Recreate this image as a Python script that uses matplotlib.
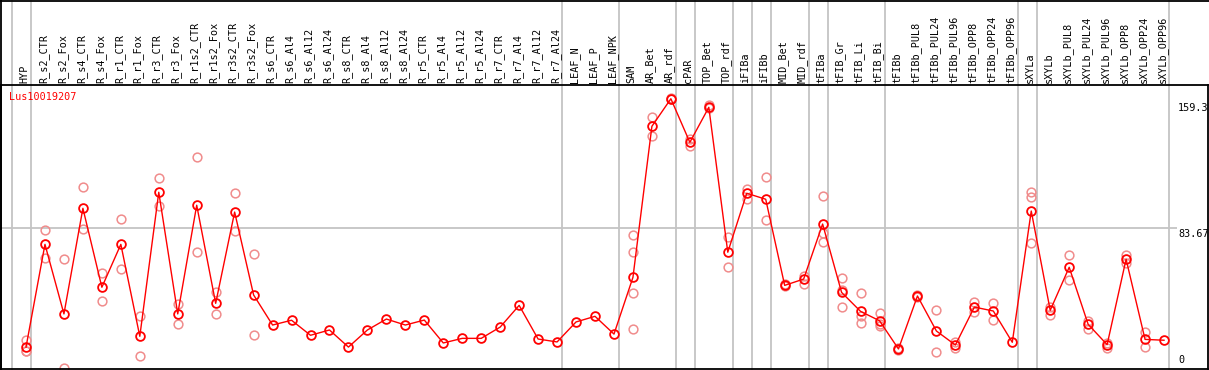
import matplotlib
matplotlib.use('Agg')
import matplotlib.pyplot as plt
from matplotlib.lines import Line2D
from matplotlib.transforms import blended_transform_factory

plt.rcParams['font.family'] = 'DejaVu Sans Mono'

# samples along the x axis
cats = ['HYP', 'R_s2_CTR', 'R_s2_Fox', 'R_s4_CTR', 'R_s4_Fox', 'R_r1_CTR', 'R_r1_Fox',
        'R_r3_CTR', 'R_r3_Fox', 'R_r1s2_CTR', 'R_r1s2_Fox', 'R_r3s2_CTR', 'R_r3s2_Fox',
        'R_s6_CTR', 'R_s6_Al4', 'R_s6_Al12', 'R_s6_Al24', 'R_s8_CTR', 'R_s8_Al4',
        'R_s8_Al12', 'R_s8_Al24', 'R_r5_CTR', 'R_r5_Al4', 'R_r5_Al12', 'R_r5_Al24',
        'R_r7_CTR', 'R_r7_Al4', 'R_r7_Al12', 'R_r7_Al24', 'LEAF_N', 'LEAF_P', 'LEAF_NPK',
        'SAM', 'AR_Bet', 'AR_rdf', 'cPAR', 'TOP_Bet', 'TOP_rdf', 'iFIBa', 'iFIBb',
        'MID_Bet', 'MID_rdf', 'tFIBa', 'tFIB_Gr', 'tFIB_Li', 'tFIB_Bi', 'tFIBb',
        'tFIBb_PUL8', 'tFIBb_PUL24', 'tFIBb_PUL96', 'tFIBb_OPP8', 'tFIBb_OPP24',
        'tFIBb_OPP96', 'sXYLa', 'sXYLb', 'sXYLb_PUL8', 'sXYLb_PUL24', 'sXYLb_PUL96',
        'sXYLb_OPP8', 'sXYLb_OPP24', 'sXYLb_OPP96']

# mean expression
means = [13.9, 74.1, 33.4, 95.2, 49.0, 74.1, 20.3, 104.6, 33.4, 97.0, 39.6, 93.0, 44.5,
         26.9, 29.7, 20.9, 24.0, 14.0, 24.0, 30.4, 26.9, 29.8, 16.4, 19.1, 19.1,
         25.7, 38.4, 18.7, 17.0, 28.7, 32.0, 21.6,
         54.8, 143.2, 159.3, 133.8, 154.3, 69.5, 104.0, 100.5, 50.1, 53.8,
         86.0, 46.0, 34.9, 29.4, 12.9, 43.9, 23.4, 15.2, 37.4, 35.1, 16.8,
         93.6, 35.5, 60.7, 27.3, 15.4, 65.4, 18.5, 18.0]

# individual replicates
reps = [[18.1, 11.9, 11.7], [82.5, 65.9], [65.5, 1.6], [107.5, 82.9], [57.2, 40.8],
        [88.8, 59.5], [32.2, 8.6], [112.8, 96.5], [39.2, 27.3], [125.0, 69.5],
        [46.1, 33.2], [104.0, 81.9], [68.3, 20.9],
        [], [], [], [], [], [], [], [], [], [], [], [], [], [], [], [], [], [], [],
        [79.4, 69.5, 45.5, 24.4], [148.8, 137.3], [159.6, 159.0], [135.7, 131.8],
        [155.6, 153.7], [78.2, 60.7], [106.5, 100.8], [113.3, 88.2], [51.1, 49.7],
        [55.8, 50.9], [102.4, 80.6, 75.3], [54.2, 47.6, 37.3], [45.5, 32.2, 27.9],
        [33.9, 27.5, 26.5], [13.5, 12.4], [44.4, 43.5], [35.7, 10.9], [16.8, 13.6],
        [40.6, 34.5], [39.8, 29.7], [], [104.6, 102.0, 74.7], [37.6, 32.8],
        [67.9, 53.2], [29.4, 24.8], [16.6, 13.5], [67.9, 63.0], [22.8, 14.2], []]

# last index of each sample group
group_ends = [0, 28, 31, 34, 35, 37, 38, 39, 41, 42, 45, 52, 53, 60]

yticks = [0, 83.67, 159.3]
ytick_labels = ['0', '83.67', '159.3']
gene = 'Lus10019207'

W, H = 1209, 370
fig = plt.figure(figsize=(W / 100, H / 100), dpi=100)
ax = fig.add_axes([1 / W, 1 / H, 1207 / W, 284 / H])

step = 18.967
ax.set_xlim((1 - 26) / step, (1208 - 26) / step)
ax.set_ylim((371 - 369) / 1.709, (371 - 85) / 1.709)
ax.set_xticks([])
ax.set_yticks([])
for s in ax.spines.values():
    s.set_color('black')
    s.set_linewidth(1.3)

xs = list(range(len(cats)))
grey = '#c4c4c4'
bt = blended_transform_factory(ax.transData, fig.transFigure)

# group separators run the whole height
for g in [-1] + group_ends:
    ax.plot([g + 0.28, g + 0.28], [0, 1], color=grey, lw=1.3, transform=bt,
            clip_on=False, zorder=1)

ax.hlines(83.67, ax.get_xlim()[0], (1177 - 26) / step, color=grey, lw=1.3, zorder=1)

rx = [i for i, r in enumerate(reps) for _ in r]
ry = [v for r in reps for v in r]
ax.plot(rx, ry, 'o', ms=6.3, mfc='none', mec='#f08c8c', mew=1.1, zorder=2)
ax.plot(xs, means, '-', color='red', lw=1.0, zorder=3)
ax.plot(xs, means, 'o', ms=6.3, mfc='none', mec='red', mew=1.3, zorder=4)

# sample names above the plot
for i, c in enumerate(cats):
    ax.text(i - 0.08, (H - 83) / H, c, transform=bt, rotation=90, ha='center',
            va='bottom', fontsize=7.3, color='black', clip_on=False)

yt = blended_transform_factory(ax.transAxes, ax.transData)
offs = {'0': (6, 'bottom'), '83.67': (-1, 'top'), '159.3': (-4, 'top')}
for v, l in zip(yticks, ytick_labels):
    dy, va = offs[l]
    ax.annotate(l, xy=((1178 - 1) / 1207, v), xycoords=yt, xytext=(0, dy),
                textcoords='offset pixels', ha='left', va=va, fontsize=7.3,
                annotation_clip=False)

fig.text(9 / W, (H - 97) / H, gene, color='red', fontsize=7.3, ha='left', va='center')

# outer frame over the label area
fig.add_artist(Line2D([0, 1], [1 - 0.6 / H, 1 - 0.6 / H], color='black', lw=1.3))
fig.add_artist(Line2D([1.2 / W, 1.2 / W], [0, 1], color='black', lw=1.3))

fig.savefig('out.png', dpi=100)
